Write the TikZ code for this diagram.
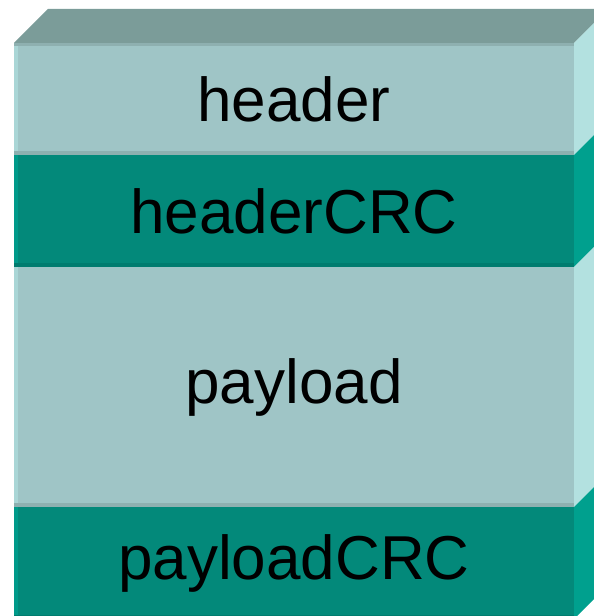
\documentclass[tikz,border=0pt]{standalone}
\usepackage{fontspec}
\setmainfont{Liberation Sans}
\definecolor{topgray}{RGB}{123,156,153}
\definecolor{lightteal}{RGB}{159,197,198}
\definecolor{lightside}{RGB}{179,225,224}
\definecolor{lightedge}{RGB}{170,214,214}
\definecolor{lightrim}{RGB}{142,176,176}
\definecolor{darkteal}{RGB}{3,137,122}
\definecolor{darkside}{RGB}{0,160,142}
\definecolor{darkedge}{RGB}{0,154,138}
\definecolor{darkrim}{RGB}{0,124,111}
\usetikzlibrary{positioning}

\begin{document}
\begin{tikzpicture}[x=1pt, y=1pt, node distance=0pt]
    \tikzstyle{layer} = [rectangle, minimum width=560pt, inner sep=0pt, outer sep=0pt, text centered, font=\fontsize{62}{70}\selectfont]
    \tikzstyle{light} = [layer, fill=lightteal]
    \tikzstyle{dark} = [layer, fill=darkteal]

    \useasboundingbox (0,0) rectangle (594,616);
    \clip (0,0) rectangle (594,616);

    % Front faces
    \node [light, minimum height=112pt, anchor=north west] (header) at (14,573) {header};
    \node [dark, minimum height=112pt, below=of header] (header_crc) {headerCRC};
    \node [light, minimum height=240pt, below=of header_crc] (payload) {payload};
    \node [dark, minimum height=112pt, below=of payload] (payload_crc) {payloadCRC};

    % Top face
    \fill [topgray] (header.north west) -- ++(34,34) -- ++(560,0) -- (header.north east) -- cycle;

    % Side faces and edge highlights
    \foreach \n/\k in {header/light, header_crc/dark, payload/light, payload_crc/dark} {
        \fill [\k side] (\n.north east) -- ++(34,34) -- ([shift={(34,34)}]\n.south east) -- (\n.south east) -- cycle;
        \fill [\k edge] (\n.north west) rectangle ([xshift=4pt]\n.south west);
        \fill [\k rim] (\n.south west) rectangle ([yshift=4pt]\n.south east);
    }
    \fill [lightrim] (header.north west) rectangle ([yshift=-3pt]header.north east);
\end{tikzpicture}
\end{document}
